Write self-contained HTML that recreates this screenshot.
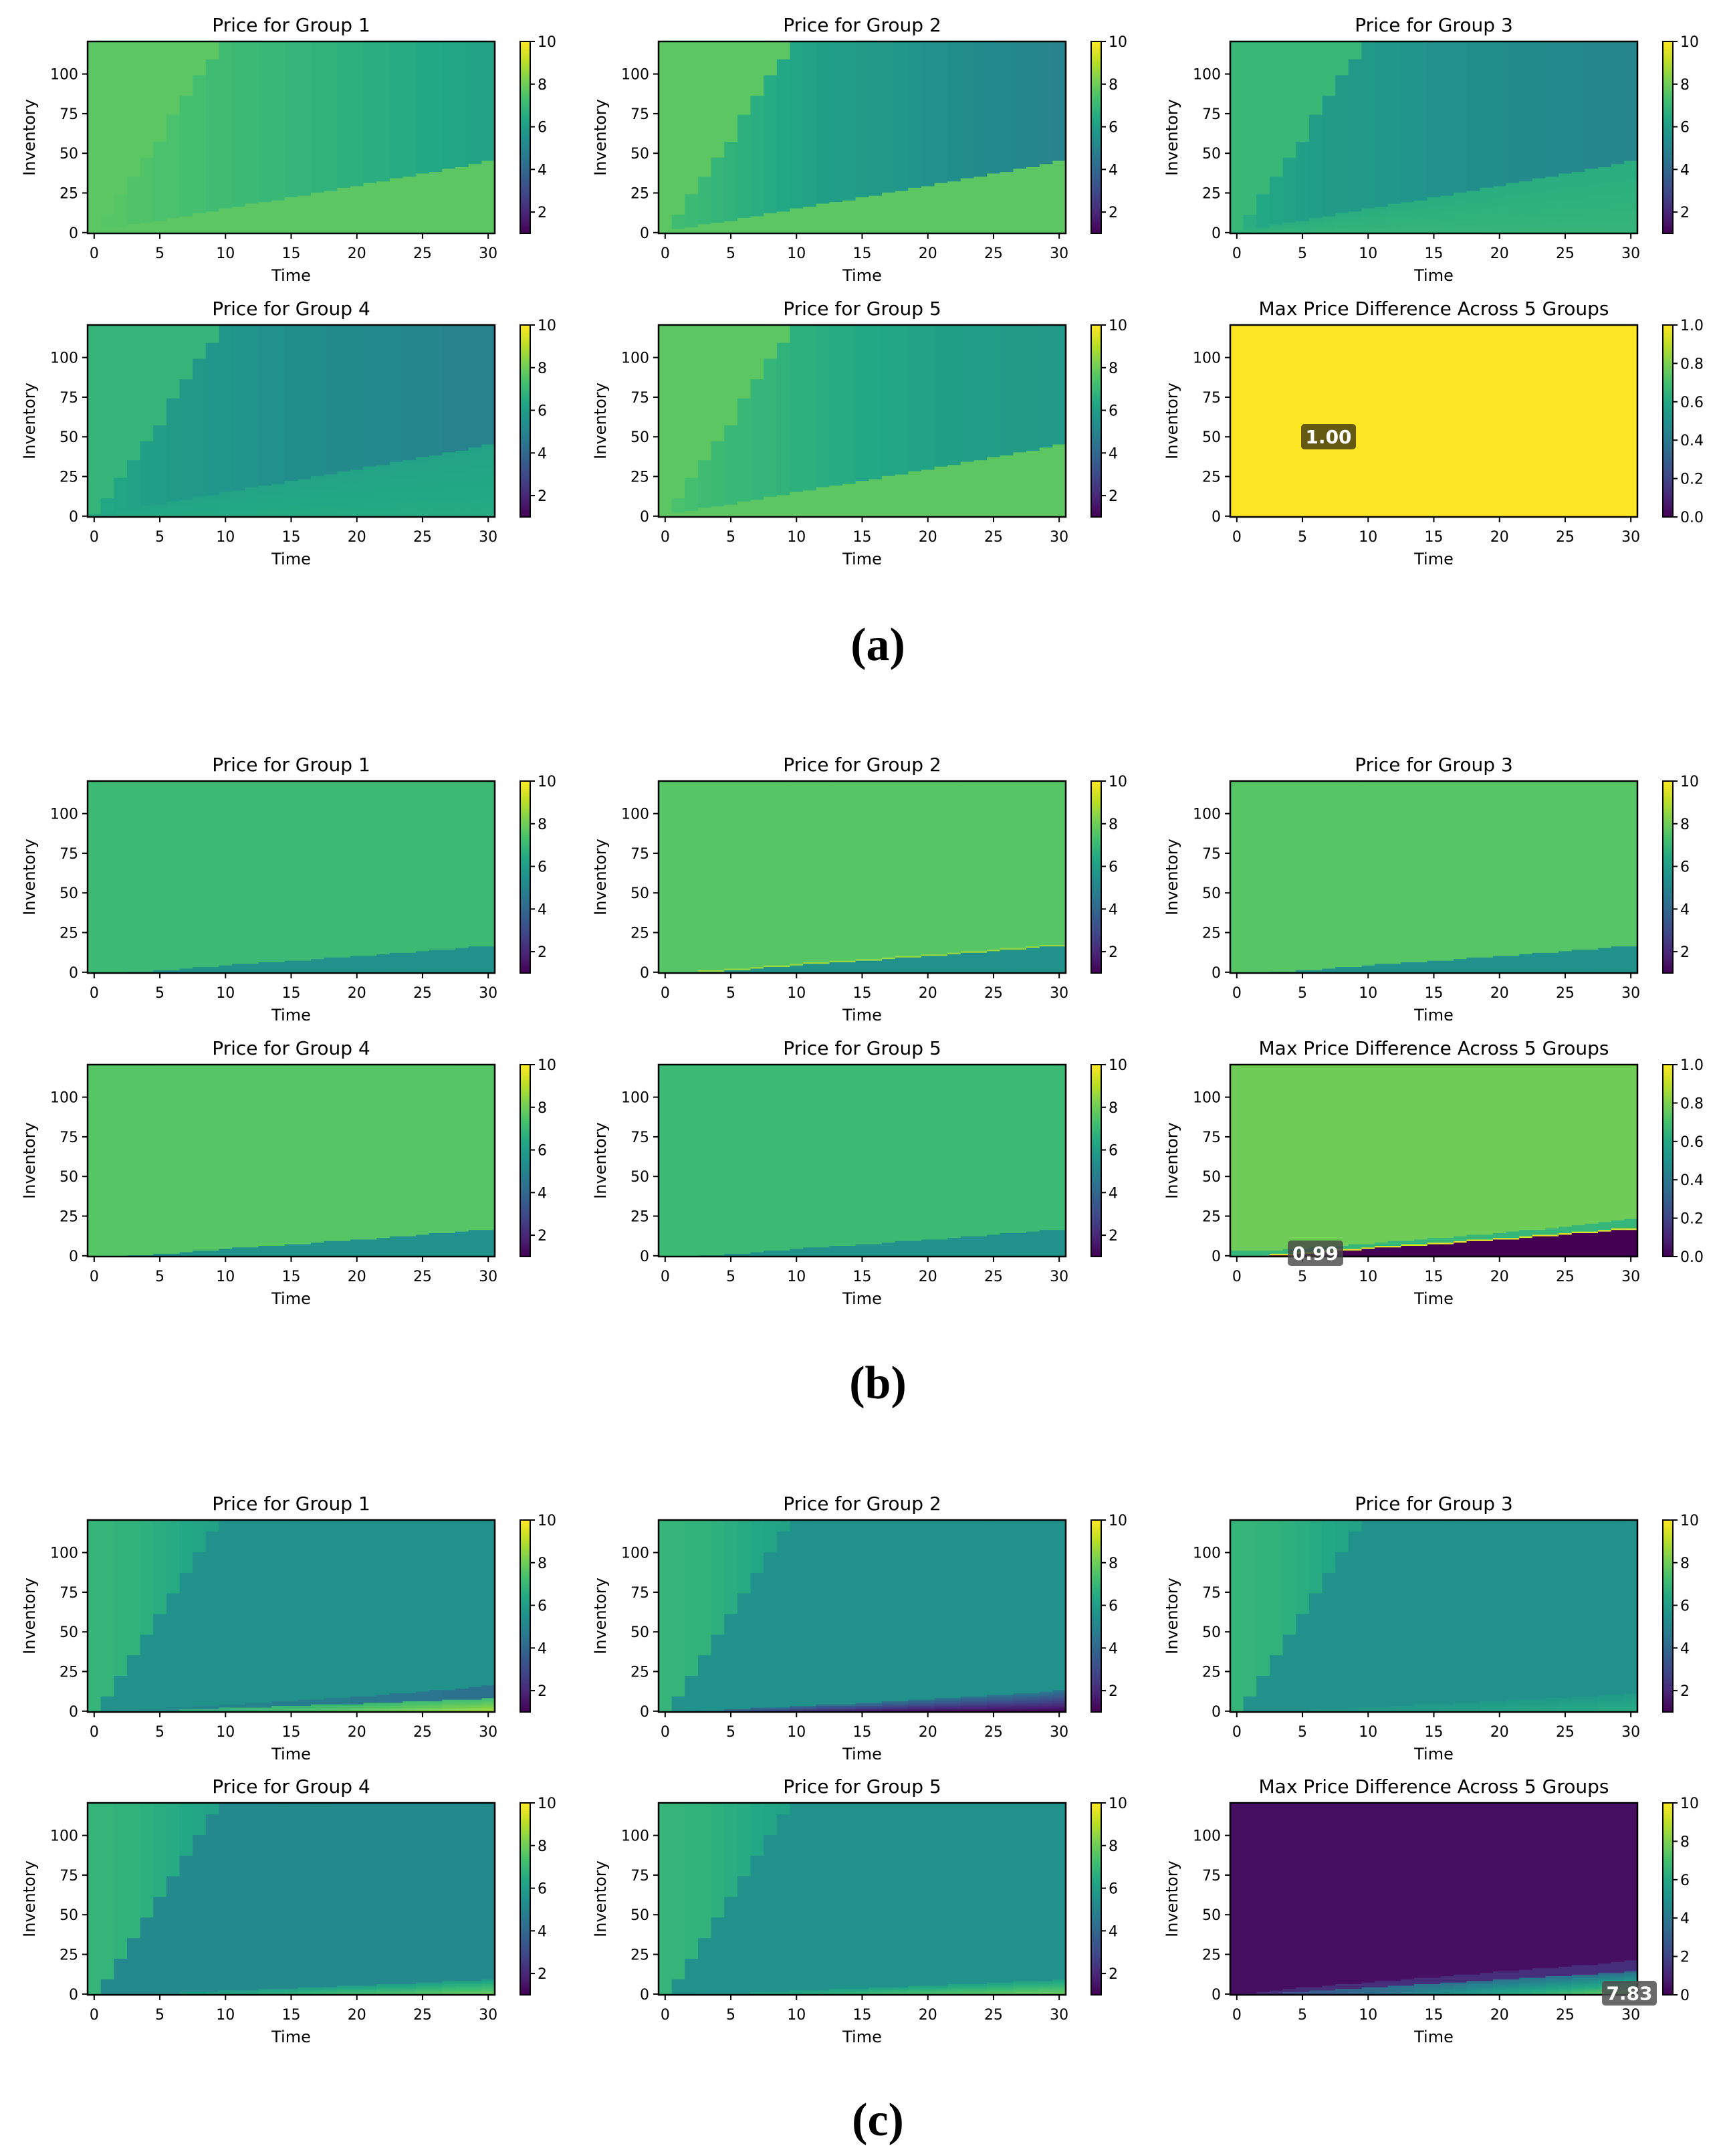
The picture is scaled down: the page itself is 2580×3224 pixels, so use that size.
<!DOCTYPE html>
<html><head><meta charset="utf-8">
<style>
html,body{margin:0;padding:0;background:#fff;}
svg{display:block;font-family:"DejaVu Sans","Liberation Sans",sans-serif;}
</style></head>
<body>
<svg id="fig" width="2580" height="3224" viewBox="0 0 2580 3224" xmlns="http://www.w3.org/2000/svg">
<rect x="0" y="0" width="2580" height="3224" fill="#fff"/>
</svg>
<script>
// ---------- axes data ----------
const xTicks = [0,5,10,15,20,25,30];
const yTicks = [0,25,50,75,100];
const cbTicksPrice = [2,4,6,8,10];
const cbTicksUnit = [0.0,0.2,0.4,0.6,0.8,1.0];
const cbTicksDiff = [0,2,4,6,8,10];
const panelTitles = ["Price for Group 1","Price for Group 2","Price for Group 3","Price for Group 4","Price for Group 5","Max Price Difference Across 5 Groups"];
const sectionLabels = ["(a)","(b)","(c)"];

// ---------- region edges (inventory per time step t=0..30) ----------
const A_low  = [2,3,4,6,7,8,10,11,13,14,16,17,19,20,21,23,24,26,27,29,30,32,33,35,36,38,39,41,42,44,46];
const A_diag = [0,12,25,36,48,58,75,87,100,110,121,121,121,121,121,121,121,121,121,121,121,121,121,121,121,121,121,121,121,121,121];
const B_low  = [0,0,0,1,1,2,2,3,4,4,5,6,6,7,7,8,8,9,10,10,11,11,12,13,13,14,15,15,16,17,17];
const B_band = [0,0,0,2,2,3,3,4,5,5,6,7,7,8,8,9,9,10,11,11,12,12,13,14,14,15,16,16,17,18,18];
const B_up   = [4,4,4,4,5,5,6,6,7,8,8,9,10,10,11,12,12,13,14,14,15,16,17,17,18,19,20,21,22,23,24];
const C_diag = [0,10,23,36,49,62,75,88,101,114,121,121,121,121,121,121,121,121,121,121,121,121,121,121,121,121,121,121,121,121,121];
const C1_low = [0,0,0,0,1,1,1,2,2,2,3,3,3,3,4,4,4,5,5,5,5,6,6,6,7,7,7,8,8,8,9];
const C1_band= [0,0,1,1,2,2,3,3,4,4,5,5,6,6,7,7,8,8,9,9,10,10,11,12,12,13,14,14,15,16,17];
const C2_low = [0,0,1,1,1,2,2,3,3,3,4,4,5,5,5,6,6,7,7,8,8,9,9,10,10,11,11,12,12,13,14];
const C3_low = [0,0,0,1,1,1,2,2,2,3,3,3,4,4,5,5,5,6,6,7,7,8,8,8,9,9,10,10,11,11,12];
const C4_low = [0,0,0,1,1,1,1,2,2,2,3,3,3,4,4,4,5,5,5,6,6,6,7,7,7,8,8,9,9,9,10];
const C6_low = [0,0,1,1,2,2,3,3,4,4,5,5,6,6,7,7,8,8,9,9,10,10,11,11,12,12,13,13,14,14,15];
const C6_band= [0,1,2,3,4,5,5,6,7,7,8,9,9,10,11,11,12,13,13,14,15,15,16,17,17,18,19,19,20,21,22];

// ---------- region values ----------
const a1_mid = [7.7,7.6,7.6,7.5,7.5,7.4,7.4,7.3,7.3,7.2,7.2,7.1,7.1,7.0,7.0,6.9,6.9,6.8,6.8,6.7,6.7,6.6,6.6,6.5,6.5,6.4,6.4,6.3,6.3,6.2,6.2];
const a2_mid = [7.4,7.2,7.1,7.0,6.9,6.8,6.7,6.6,6.5,6.4,6.3,6.2,6.1,6.0,5.95,5.9,5.85,5.8,5.7,5.6,5.5,5.45,5.4,5.35,5.3,5.25,5.2,5.15,5.1,5.05,5.0];
const a3_mid = [6.8,6.6,6.4,6.3,6.2,6.1,6.0,5.9,5.9,5.8,5.8,5.7,5.7,5.6,5.6,5.5,5.5,5.5,5.4,5.4,5.4,5.3,5.3,5.3,5.2,5.2,5.2,5.1,5.1,5.1,5.1];
const a4_mid = [6.6,6.4,6.3,6.2,6.1,6.0,5.9,5.8,5.8,5.7,5.7,5.6,5.6,5.5,5.5,5.4,5.4,5.4,5.3,5.3,5.3,5.2,5.2,5.2,5.1,5.1,5.1,5.0,5.0,5.0,4.95];
const a5_mid = [7.5,7.4,7.3,7.2,7.1,7.0,7.0,6.9,6.9,6.8,6.7,6.7,6.6,6.5,6.5,6.4,6.4,6.3,6.3,6.2,6.2,6.1,6.1,6.0,6.0,6.0,5.9,5.9,5.9,5.8,5.8];
const c_top = [6.9,6.9,6.8,6.8,6.7,6.6,6.5,6.4,6.3,6.2,6.1,6.1,6.1,6.1,6.1,6.1,6.1,6.1,6.1,6.1,6.1,6.1,6.1,6.1,6.1,6.1,6.1,6.1,6.1,6.1,6.1];
const c1_lowBot = [5.6,5.7,5.8,6.0,6.1,6.2,6.3,6.5,6.6,6.7,6.8,6.9,7.0,7.1,7.2,7.3,7.4,7.5,7.6,7.7,7.8,7.9,8.0,8.1,8.2,8.3,8.4,8.5,8.6,8.7,8.8];
const c1_band = [5.5,5.5,5.4,5.4,5.3,5.3,5.2,5.2,5.1,5.1,5.0,5.0,4.9,4.9,4.8,4.8,4.8,4.7,4.7,4.7,4.6,4.6,4.6,4.5,4.5,4.5,4.5,4.4,4.4,4.4,4.4];
const c2_lowBot = [5.2,4.8,4.4,4.0,3.6,3.3,3.0,2.8,2.6,2.4,2.2,2.0,1.9,1.8,1.7,1.6,1.5,1.4,1.35,1.3,1.25,1.2,1.2,1.15,1.15,1.1,1.1,1.1,1.05,1.05,1.0];
const c3_lowBot = [5.6,5.6,5.7,5.7,5.8,5.8,5.8,5.9,5.9,5.9,6.0,6.0,6.0,6.1,6.1,6.1,6.2,6.2,6.2,6.3,6.3,6.3,6.4,6.4,6.4,6.5,6.5,6.5,6.6,6.6,6.6];
const c4_lowBot = [5.5,5.6,5.7,5.8,5.9,6.0,6.1,6.2,6.3,6.4,6.5,6.6,6.7,6.8,6.9,7.0,7.0,7.1,7.2,7.3,7.3,7.4,7.5,7.5,7.6,7.7,7.7,7.8,7.9,7.9,8.0];
const c5_lowBot = [5.6,5.7,5.8,5.9,6.0,6.1,6.2,6.3,6.4,6.5,6.6,6.7,6.8,6.9,7.0,7.1,7.2,7.3,7.4,7.4,7.5,7.6,7.6,7.7,7.7,7.8,7.8,7.9,7.9,8.0,8.0];
const c6_lowBot = [0.5,0.8,1.1,1.4,1.7,2.0,2.3,2.6,2.9,3.2,3.5,3.8,4.1,4.4,4.7,5.0,5.2,5.4,5.6,5.8,6.0,6.2,6.4,6.6,6.8,7.0,7.2,7.4,7.5,7.7,7.8];

// panels: row-major, 6 rows x 3 cols
const zeros = A_diag.map(()=>0), fulls = A_diag.map(()=>121);
const panels = [
 {low:A_low,band:A_low,diag:A_diag,lowBot:7.7,lowTop:7.7,bandV:7.7,mid:a1_mid,top:7.7,vmin:1,vmax:10,ticks:cbTicksPrice,t:0},
 {low:A_low,band:A_low,diag:A_diag,lowBot:7.7,lowTop:7.7,bandV:7.7,mid:a2_mid,top:7.7,vmin:1,vmax:10,ticks:cbTicksPrice,t:1},
 {low:A_low,band:A_low,diag:A_diag,lowBot:6.9,lowTop:6.6,bandV:6.6,mid:a3_mid,top:7.0,vmin:1,vmax:10,ticks:cbTicksPrice,t:2},
 {low:A_low,band:A_low,diag:A_diag,lowBot:6.5,lowTop:6.2,bandV:6.2,mid:a4_mid,top:6.9,vmin:1,vmax:10,ticks:cbTicksPrice,t:3},
 {low:A_low,band:A_low,diag:A_diag,lowBot:7.7,lowTop:7.7,bandV:7.7,mid:a5_mid,top:7.7,vmin:1,vmax:10,ticks:cbTicksPrice,t:4},
 {low:A_low,band:A_low,diag:A_diag,lowBot:1.0,lowTop:1.0,bandV:1.0,mid:1.0,top:1.0,vmin:0,vmax:1,ticks:cbTicksUnit,t:5},
 {low:B_low,band:B_low,diag:zeros,lowBot:5.5,lowTop:5.5,bandV:7.1,mid:7.1,top:7.1,vmin:1,vmax:10,ticks:cbTicksPrice,t:0},
 {low:B_low,band:B_band,diag:zeros,lowBot:5.5,lowTop:5.5,bandV:8.6,mid:7.6,top:7.6,vmin:1,vmax:10,ticks:cbTicksPrice,t:1},
 {low:B_low,band:B_low,diag:zeros,lowBot:5.5,lowTop:5.5,bandV:7.6,mid:7.6,top:7.6,vmin:1,vmax:10,ticks:cbTicksPrice,t:2},
 {low:B_low,band:B_low,diag:zeros,lowBot:5.5,lowTop:5.5,bandV:7.6,mid:7.6,top:7.6,vmin:1,vmax:10,ticks:cbTicksPrice,t:3},
 {low:B_low,band:B_low,diag:zeros,lowBot:5.5,lowTop:5.5,bandV:7.1,mid:7.1,top:7.1,vmin:1,vmax:10,ticks:cbTicksPrice,t:4},
 {low:B_low,band:B_band,diag:B_up,lowBot:0.0,lowTop:0.0,bandV:0.95,mid:0.66,top:0.78,vmin:0,vmax:1,ticks:cbTicksUnit,t:5},
 {low:C1_low,band:C1_band,diag:C_diag,lowBot:c1_lowBot,lowTop:7.0,bandV:c1_band,mid:5.5,top:c_top,vmin:1,vmax:10,ticks:cbTicksPrice,t:0},
 {low:C2_low,band:C2_low,diag:C_diag,lowBot:c2_lowBot,lowTop:4.8,bandV:5.5,mid:5.5,top:c_top,vmin:1,vmax:10,ticks:cbTicksPrice,t:1},
 {low:C3_low,band:C3_low,diag:C_diag,lowBot:c3_lowBot,lowTop:5.8,bandV:5.5,mid:5.5,top:c_top,vmin:1,vmax:10,ticks:cbTicksPrice,t:2},
 {low:C4_low,band:C4_low,diag:C_diag,lowBot:c4_lowBot,lowTop:5.9,bandV:5.2,mid:5.2,top:c_top,vmin:1,vmax:10,ticks:cbTicksPrice,t:3},
 {low:C4_low,band:C4_low,diag:C_diag,lowBot:c5_lowBot,lowTop:6.0,bandV:5.5,mid:5.5,top:c_top,vmin:1,vmax:10,ticks:cbTicksPrice,t:4},
 {low:C6_low,band:C6_band,diag:fulls,lowBot:c6_lowBot,lowTop:3.5,bandV:1.3,mid:0.4,top:0.4,vmin:0,vmax:10,ticks:cbTicksDiff,t:5}
];

// ---------- layout ----------
const colLeft=[131,985,1840], rowTop=[62,486,1168,1592,2273,2696], W=609, H=287;
const NT=31, NI=121;
const VIR=["#440154","#482475","#414487","#355f8d","#2a788e","#21918c","#22a884","#44bf70","#7ad151","#bddf26","#fde725"];
function hex(h){return [parseInt(h.substr(1,2),16),parseInt(h.substr(3,2),16),parseInt(h.substr(5,2),16)];}
const VRGB=VIR.map(hex);
function viridis(f){f=Math.max(0,Math.min(1,f));const p=f*10,i=Math.min(9,Math.floor(p)),r=p-i;const a=VRGB[i],b=VRGB[i+1];
 return "rgb("+a.map((c,k)=>Math.round(c+(b[k]-c)*r)).join(",")+")";}
function at(a,t){return Array.isArray(a)?a[t]:a;}
const NS="http://www.w3.org/2000/svg";
const svg=document.getElementById("fig");
function mk(tag,attrs,parent){const e=document.createElementNS(NS,tag);for(const k in attrs)e.setAttribute(k,attrs[k]);(parent||svg).appendChild(e);return e;}
function txt(s,attrs,parent){const e=mk("text",attrs,parent);e.textContent=s;return e;}

function cellValue(p,t,inv){
 const lo=p.low[t], bd=p.band[t], dg=p.diag[t];
 if(inv<lo){const b=at(p.lowBot,t),tp=at(p.lowTop,t);return b+(tp-b)*(inv/Math.max(lo,1));}
 if(inv<bd) return at(p.bandV,t);
 if(inv>=dg) return at(p.top,t);
 return at(p.mid,t);
}

panels.forEach((p,idx)=>{
 const r=Math.floor(idx/3), c=idx%3;
 const L=colLeft[c], T=rowTop[r], B=T+H;
 const xs=t=>L+(t+0.5)/NT*W;
 const ys=v=>B-(v+0.5)/NI*H;
 const g=mk("g",{});
 
 
 const hm=mk("g",{},g);
 
 
 const cw=W/NT, ch=H/NI;
 for(let t=0;t<NT;t++){
  let start=0, prev=null;
  for(let i=0;i<=NI;i++){
   const col=i<NI?viridis((cellValue(p,t,i)-p.vmin)/(p.vmax-p.vmin)):null;
   if(col!==prev){
    if(prev!==null){
     const rc=mk("rect",{x:(xs(t)-cw/2).toFixed(2),y:(ys(i-1)-ch/2).toFixed(2),width:(cw+0.6).toFixed(2),height:((i-start)*ch+0.6).toFixed(2),fill:prev},hm);
     
     
    }
    start=i; prev=col;
   }
  }
 }
 const fr=mk("rect",{x:L,y:T,width:W,height:H,fill:"none",stroke:"#000","stroke-width":2.5},g);
 
 
 xTicks.forEach(v=>{
  mk("line",{x1:xs(v),x2:xs(v),y1:B,y2:B+8,stroke:"#000","stroke-width":2},g);
  const tl=txt(String(v),{x:xs(v),y:B+37,"font-size":22,"text-anchor":"middle",fill:"#000"},g);
  
  
 });
 yTicks.forEach(v=>{
  mk("line",{x1:L-8,x2:L,y1:ys(v),y2:ys(v),stroke:"#000","stroke-width":2},g);
  const tl=txt(String(v),{x:L-14,y:ys(v)+8,"font-size":22,"text-anchor":"end",fill:"#000"},g);
  
  
 });
 const xl=txt("Time",{x:L+W/2,y:B+71,"font-size":24,"text-anchor":"middle",fill:"#000"},g);
 
 
 const yl=txt("Inventory",{x:0,y:0,"font-size":24,"text-anchor":"middle",fill:"#000",transform:"translate("+(L-79)+","+(T+H/2)+") rotate(-90)"},g);
 
 
 const ti=txt(panelTitles[p.t],{x:L+W/2,y:T-15,"font-size":28,"text-anchor":"middle",fill:"#000"},g);
 
 
 const cx=L+W+38, cwid=15;
 const cb=mk("g",{},g);
 
 
 const n=100;
 for(let k=0;k<n;k++){
  mk("rect",{x:cx,y:(B-(k+1)*H/n).toFixed(2),width:cwid,height:(H/n+0.6).toFixed(2),fill:viridis((k+0.5)/n)},cb);
 }
 mk("rect",{x:cx,y:T,width:cwid,height:H,fill:"none",stroke:"#000","stroke-width":2},cb);
 p.ticks.forEach(v=>{
  const yy=B-(v-p.vmin)/(p.vmax-p.vmin)*H;
  mk("line",{x1:cx+cwid,x2:cx+cwid+7,y1:yy,y2:yy,stroke:"#000","stroke-width":2},cb);
  const lab=p.vmax===1?v.toFixed(1):String(v);
  const tl=txt(lab,{x:cx+cwid+11,y:yy+8,"font-size":22,fill:"#000"},cb);
  
  
 });
});

const annots=[{x:1946,y:634,w:82,h:38,fill:"#645a14",s:"1.00"},{x:1926,y:1855,w:83,h:38,fill:"rgba(70,70,70,0.8)",s:"0.99"},{x:2396,y:2962,w:82,h:37,fill:"rgba(80,80,80,0.85)",s:"7.83"}];
annots.forEach(a=>{
 const g=mk("g",{});
 
 
 mk("rect",{x:a.x,y:a.y,width:a.w,height:a.h,rx:5,fill:a.fill},g);
 txt(a.s,{x:a.x+a.w/2,y:a.y+a.h/2+10,"font-size":28,"font-weight":"bold","text-anchor":"middle",fill:"#fff"},g);
});
[963,2067,3169].forEach((y,i)=>{
 const t=txt(sectionLabels[i],{x:1313,y:y+24,"font-size":70,"font-weight":"bold","text-anchor":"middle",fill:"#000","font-family":"'Liberation Serif',serif"});
 
 
});
</script>
</body></html>
